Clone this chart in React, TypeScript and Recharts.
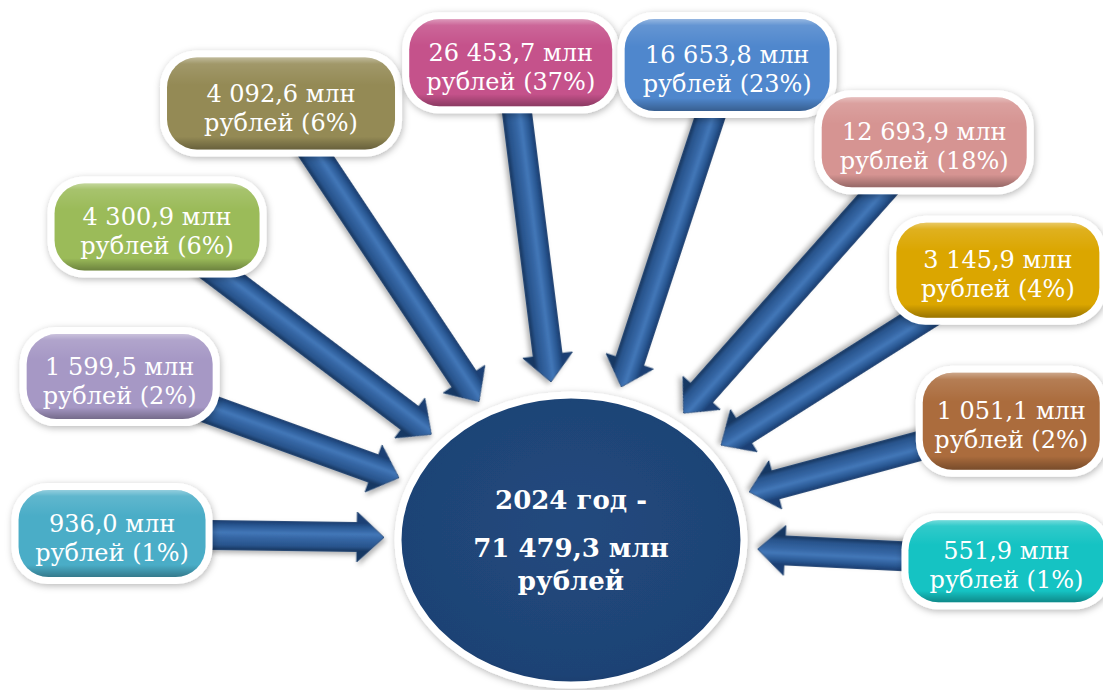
import { ScatterChart, Scatter, XAxis, YAxis } from "recharts";

// values
const year = 2024;
const total = 71479.3;
const amounts = [936.0, 1599.5, 4300.9, 4092.6, 26453.7, 16653.8, 12693.9, 3145.9, 1051.1, 551.9];
const shares = [1, 2, 6, 6, 37, 23, 18, 4, 2, 1];
const unit = "млн";
const currency = "рублей";

// layout: chart size, hub ellipse and a radial slot (angle, distance, box w/h) for each item
const W = 1103;
const H = 690;
const HUB = { x: 571, y: 540, rx: 176, ry: 148 };
const slots: [number, number, number, number][] = [
  [179.2, 459, 187, 87],
  [160.1, 480, 186, 85],
  [142.9, 519, 205, 87],
  [123.6, 524, 228, 92],
  [97.2, 481, 203, 87],
  [71.8, 500, 205, 92],
  [48.4, 532, 205, 90],
  [32.3, 505, 203, 95],
  [15.1, 456, 177, 97],
  [-2.8, 436, 196, 82],
];
const palette = [
  "#4AADC7",
  "#A698C5",
  "#9BBB59",
  "#948A55",
  "#C5528B",
  "#4F87CD",
  "#D69492",
  "#DBA600",
  "#AB6C3D",
  "#15C3C3",
];
const FONT = "'DejaVu Serif', serif";

const fmt = (v: number) => {
  const [i, d] = v.toFixed(1).split(".");
  return i.replace(/\B(?=(\d{3})+(?!\d))/g, " ") + "," + d;
};

const rad = (a: number) => (a * Math.PI) / 180;
const hubRadius = (a: number) => {
  const c = Math.cos(rad(a));
  const s = Math.sin(rad(a));
  return (HUB.rx * HUB.ry) / Math.sqrt((HUB.ry * c) ** 2 + (HUB.rx * s) ** 2);
};

const boxes = amounts.map((v, i) => {
  const [a, d, w, h] = slots[i];
  return {
    x: HUB.x + d * Math.cos(rad(a)),
    y: HUB.y - d * Math.sin(rad(a)),
    w,
    h,
    color: palette[i],
    line1: `${fmt(v)} ${unit}`,
    line2: `${currency} (${shares[i]}%)`,
  };
});

const arrows = slots.map(([a, d]) => {
  const r = hubRadius(a) + 11;
  return {
    x: HUB.x + r * Math.cos(rad(a)),
    y: HUB.y - r * Math.sin(rad(a)),
    len: d - r,
    rot: (Math.atan2(Math.sin(rad(a)), -Math.cos(rad(a))) * 180) / Math.PI,
  };
});

const hub = [{ x: HUB.x, y: HUB.y }];

function ArrowShape(props: any) {
  const { cx, cy, payload } = props;
  const bw = 14.5;
  const hw = 25;
  const hl = 27;
  const L = payload.len;
  const pts = [
    [-L, -bw],
    [-hl, -bw],
    [-hl, -hw],
    [0, 0],
    [-hl, hw],
    [-hl, bw],
    [-L, bw],
  ]
    .map((p) => p.join(","))
    .join(" ");
  return (
    <g transform={`translate(${cx},${cy}) rotate(${payload.rot})`} filter="url(#arrowShadow)">
      <polygon points={pts} fill="url(#arrowGrad)" stroke="#1B3C69" strokeWidth={0.8} />
    </g>
  );
}

function HubShape(props: any) {
  const { cx, cy } = props;
  return (
    <g>
      <ellipse
        cx={cx}
        cy={cy}
        rx={HUB.rx - 3}
        ry={HUB.ry - 3}
        fill="url(#hubGrad)"
        stroke="#ffffff"
        strokeWidth={7}
        filter="url(#boxShadow)"
      />
      <g fill="#ffffff" fontFamily={FONT} fontWeight="bold" fontSize={26} textAnchor="middle">
        <text x={cx} y={cy - 31}>
          {`${year} год -`}
        </text>
        <text x={cx} y={cy + 17}>
          {`${fmt(total)} ${unit}`}
        </text>
        <text x={cx} y={cy + 50}>
          {currency}
        </text>
      </g>
    </g>
  );
}

function BoxShape(props: any) {
  const { cx, cy, payload } = props;
  const { w, h, color, line1, line2 } = payload;
  const b = 7;
  return (
    <g>
      <rect
        x={cx - w / 2 - b}
        y={cy - h / 2 - b}
        width={w + 2 * b}
        height={h + 2 * b}
        rx={36}
        fill="#ffffff"
        filter="url(#boxShadow)"
      />
      <rect x={cx - w / 2} y={cy - h / 2} width={w} height={h} rx={30} fill={color} />
      <rect x={cx - w / 2} y={cy - h / 2} width={w} height={h} rx={30} fill="url(#gloss)" />
      <g fill="#ffffff" fontFamily={FONT} fontSize={24} textAnchor="middle">
        <text x={cx} y={cy - 2}>
          {line1}
        </text>
        <text x={cx} y={cy + 27}>
          {line2}
        </text>
      </g>
    </g>
  );
}

export default function App() {
  return (
    <div style={{ position: "absolute", left: 0, top: 0, width: W, height: H, background: "#ffffff" }}>
      <ScatterChart width={W} height={H} margin={{ top: 0, right: 0, bottom: 0, left: 0 }}>
        <defs>
          <linearGradient id="arrowGrad" gradientUnits="userSpaceOnUse" x1={0} y1={-14} x2={0} y2={14}>
            <stop offset="0" stopColor="#1C4074" />
            <stop offset="0.15" stopColor="#2A5893" />
            <stop offset="0.4" stopColor="#4277B8" />
            <stop offset="0.58" stopColor="#3566A4" />
            <stop offset="0.85" stopColor="#28548C" />
            <stop offset="1" stopColor="#193863" />
          </linearGradient>
          <radialGradient id="hubGrad" cx="0.5" cy="0.45" r="0.6">
            <stop offset="0" stopColor="#22497E" />
            <stop offset="0.85" stopColor="#1E4375" />
            <stop offset="1" stopColor="#183A68" />
          </radialGradient>
          <linearGradient id="gloss" x1={0} y1={0} x2={0} y2={1}>
            <stop offset="0" stopColor="#ffffff" stopOpacity={0.4} />
            <stop offset="0.07" stopColor="#ffffff" stopOpacity={0.12} />
            <stop offset="0.3" stopColor="#ffffff" stopOpacity={0} />
            <stop offset="0.86" stopColor="#000000" stopOpacity={0} />
            <stop offset="1" stopColor="#000000" stopOpacity={0.3} />
          </linearGradient>
          <filter id="boxShadow" x="-20%" y="-30%" width="140%" height="160%">
            <feDropShadow dx={1} dy={2} stdDeviation={3.5} floodColor="#000000" floodOpacity={0.28} />
          </filter>
          <filter id="arrowShadow" x="-20%" y="-50%" width="140%" height="200%">
            <feDropShadow dx={2} dy={3} stdDeviation={2.5} floodColor="#000000" floodOpacity={0.3} />
          </filter>
        </defs>
        <XAxis type="number" dataKey="x" domain={[0, W]} allowDataOverflow hide />
        <YAxis type="number" dataKey="y" domain={[0, H]} reversed allowDataOverflow hide />
        <Scatter data={arrows} shape={(p: any) => <ArrowShape {...p} />} isAnimationActive={false} />
        <Scatter data={hub} shape={(p: any) => <HubShape {...p} />} isAnimationActive={false} />
        <Scatter data={boxes} shape={(p: any) => <BoxShape {...p} />} isAnimationActive={false} />
      </ScatterChart>
    </div>
  );
}
